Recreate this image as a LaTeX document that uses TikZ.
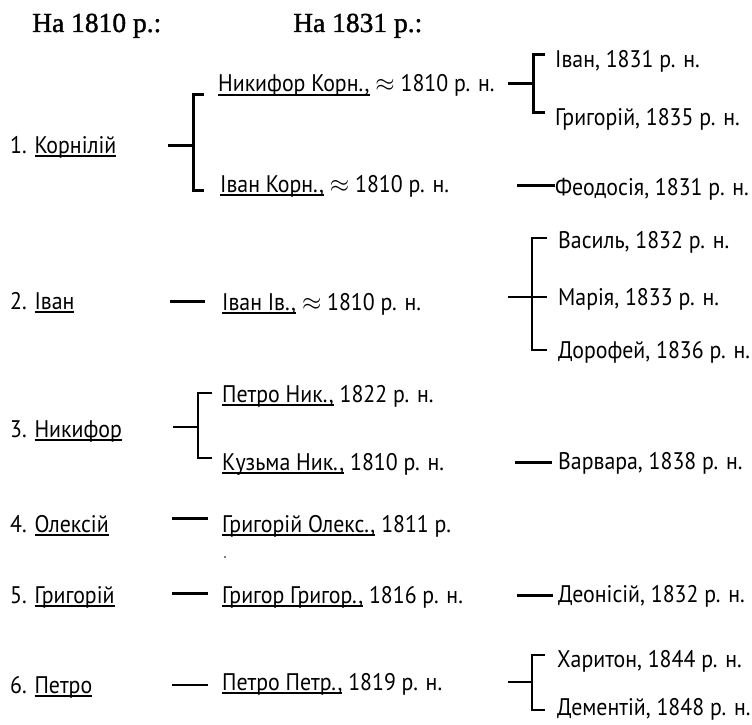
\documentclass[tikz,border=0pt]{standalone}
\usepackage{fontspec}
\setmainfont{PT Sans}[FakeStretch=0.91]
\newfontfamily\hdfont{Liberation Serif}[BoldFont={Liberation Serif},BoldFeatures={FakeBold=1.3}]
\newsavebox\ulbox
\newcommand\ulin[1]{\sbox\ulbox{#1}\rlap{\rule[-3.8pt]{\wd\ulbox}{1.8pt}}\usebox\ulbox}
\newcommand\apx{$\approx$}
\tikzset{
  lbl/.style={anchor=base west, inner sep=0pt, font=\fontsize{24}{28}\selectfont},
  hd/.style={anchor=base west, inner sep=0pt, font=\hdfont\bfseries\fontsize{27.5}{32}\selectfont},
  thk/.style={line width=3pt},
  mid/.style={line width=2.2pt},
  thn/.style={line width=1.8pt},
}
\begin{document}
\begin{tikzpicture}[x=1pt,y=-1pt]
\useasboundingbox (0,0) rectangle (752,725);
% headers
\node[hd] (h1) at (32,32) {На 1810 р.:};
\node[hd] (h2) at (293,32) {На 1831 р.:};
% left column
\node[lbl] (L1) at (10,153) {1. \ulin{Корнілій}};
\node[lbl] (L2) at (10,309) {2. \ulin{Іван}};
\node[lbl] (L3) at (10,437) {3. \ulin{Никифор}};
\node[lbl] (L4) at (10,532) {4. \ulin{Олексій}};
\node[lbl] (L5) at (10,603) {5. \ulin{Григорій}};
\node[lbl] (L6) at (10,693) {6. \ulin{Петро}};
% middle column
\node[lbl] (M1a) at (218,92) {\ulin{Никифор Корн.,} \apx{} 1810 р. н.};
\node[lbl] (M1b) at (220,192) {\ulin{Іван Корн.,} \apx{} 1810 р. н.};
\node[lbl] (M2) at (222,310) {\ulin{Іван Ів.,} \apx{} 1810 р. н.};
\node[lbl] (M3a) at (222,402) {\ulin{Петро Ник.,} 1822 р. н.};
\node[lbl] (M3b) at (222,470) {\ulin{Кузьма Ник.,} 1810 р. н.};
\node[lbl] (M4) at (222,532) {\ulin{Григорій Олекс.,} 1811 р.};
\node[lbl] (M5) at (222,603) {\ulin{Григор Григор.,} 1816 р. н.};
\node[lbl] (M6) at (222,690) {\ulin{Петро Петр.,} 1819 р. н.};
% right column
\node[lbl] (R1a) at (555,67) {Іван, 1831 р. н.};
\node[lbl] (R1b) at (555,125) {Григорій, 1835 р. н.};
\node[lbl] (R1c) at (555,195) {Феодосія, 1831 р. н.};
\node[lbl] (R2a) at (558,248) {Василь, 1832 р. н.};
\node[lbl] (R2b) at (558,305) {Марія, 1833 р. н.};
\node[lbl] (R2c) at (558,358) {Дорофей, 1836 р. н.};
\node[lbl] (R3) at (558,469) {Варвара, 1838 р. н.};
\node[lbl] (R5) at (558,602) {Деонісій, 1832 р. н.};
\node[lbl] (R6a) at (557,667) {Харитон, 1844 р. н.};
\node[lbl] (R6b) at (557,715) {Дементій, 1848 р. н.};
% stray dot
\fill (225,557) circle (0.8pt);
% connector points
\coordinate (s1) at (168,145); \coordinate (j1) at (193,145);
\coordinate (t1a) at (204,94); \coordinate (t1b) at (204,190);
\coordinate (s1r) at (508,83); \coordinate (j1r) at (533,83);
\coordinate (t1ra) at (545,55); \coordinate (t1rb) at (545,112);
\coordinate (s1c) at (517,185); \coordinate (e1c) at (555,185);
\coordinate (s2) at (170,301); \coordinate (e2) at (205,301);
\coordinate (s2r) at (508,297); \coordinate (j2r) at (532,297);
\coordinate (t2ra) at (547,238); \coordinate (t2rb) at (547,297); \coordinate (t2rc) at (547,350);
\coordinate (s3) at (173,427); \coordinate (j3) at (198,427);
\coordinate (t3a) at (212,393); \coordinate (t3b) at (212,458);
\coordinate (s3r) at (515,462); \coordinate (e3r) at (552,462);
\coordinate (s4) at (172,518); \coordinate (e4) at (208,518);
\coordinate (s5) at (172,593); \coordinate (e5) at (208,593);
\coordinate (s5r) at (517,595); \coordinate (e5r) at (553,595);
\coordinate (s6) at (172,685); \coordinate (e6) at (208,685);
\coordinate (s6r) at (508,682); \coordinate (j6r) at (532,682);
\coordinate (t6ra) at (545,655); \coordinate (t6rb) at (545,710);
% connectors
\draw[thk] (s1) -- (j1);
\draw[thk] (t1a) -| (j1) |- (t1b);
\draw[thk] (s1r) -- (j1r);
\draw[thk] (t1ra) -| (j1r) |- (t1rb);
\draw[thk] (s1c) -- (e1c);
\draw[thk] (s2) -- (e2);
\draw[mid] (s2r) -- (t2rb);
\draw[mid] (t2ra) -| (j2r) |- (t2rc);
\draw[thn] (s3) -- (j3);
\draw[thn] (t3a) -| (j3) |- (t3b);
\draw[thk] (s3r) -- (e3r);
\draw[thk] (s4) -- (e4);
\draw[thk] (s5) -- (e5);
\draw[thk] (s5r) -- (e5r);
\draw[thn] (s6) -- (e6);
\draw[mid] (s6r) -- (j6r);
\draw[mid] (t6ra) -| (j6r) |- (t6rb);
\end{tikzpicture}
\end{document}
